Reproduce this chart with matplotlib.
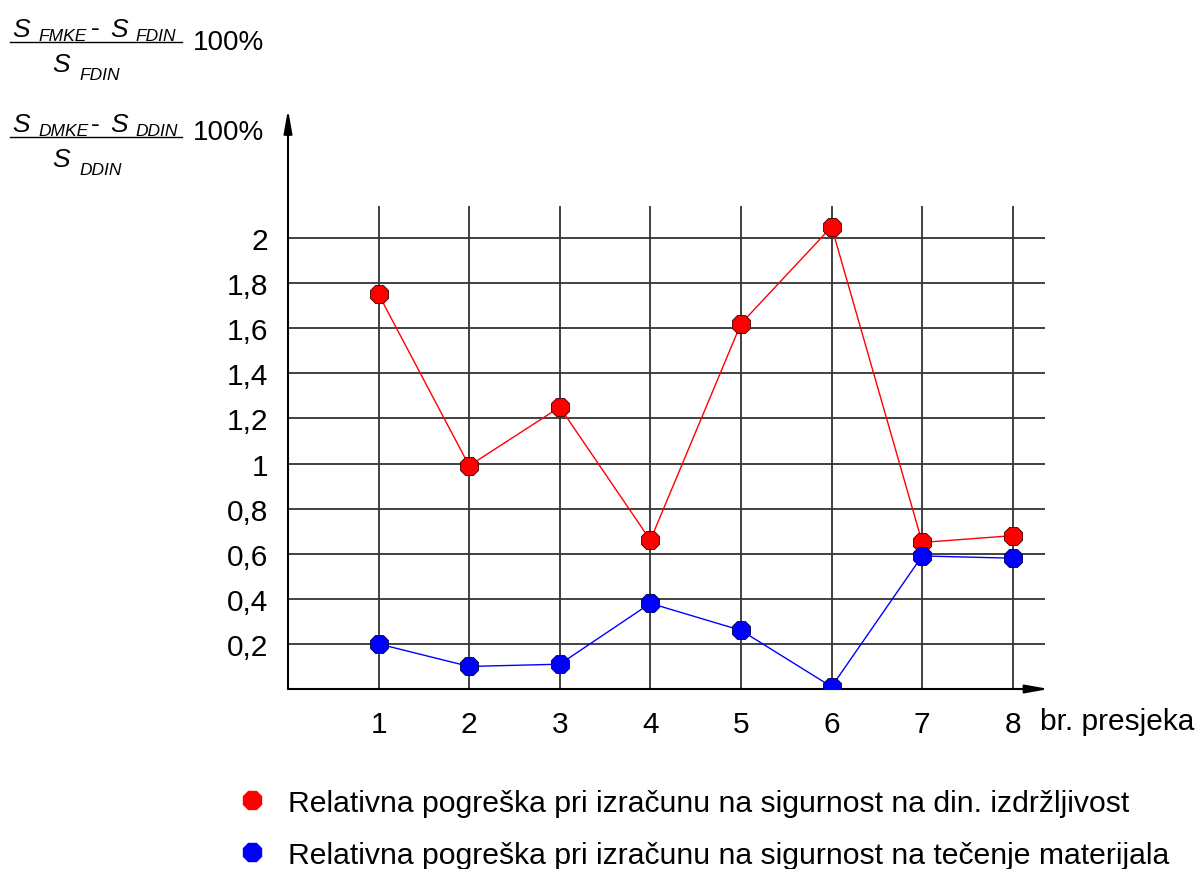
import matplotlib.pyplot as plt
from matplotlib.lines import Line2D

plt.rcParams['font.family'] = ['Liberation Sans', 'DejaVu Sans']

presjek = [1, 2, 3, 4, 5, 6, 7, 8]
din_izdrz = [1.75, 0.99, 1.25, 0.66, 1.62, 2.05, 0.65, 0.68]
tecenje = [0.20, 0.10, 0.11, 0.38, 0.26, 0.01, 0.59, 0.58]
y_ticks = [0.2, 0.4, 0.6, 0.8, 1.0, 1.2, 1.4, 1.6, 1.8, 2.0]
y_labels = ['0,2', '0,4', '0,6', '0,8', '1', '1,2', '1,4', '1,6', '1,8', '2']
leg_labels = ['Relativna pogreška pri izračunu na sigurnost na din. izdržljivost',
              'Relativna pogreška pri izračunu na sigurnost na tečenje materijala']

W, H = 1200, 870
FS = 21.5
fig = plt.figure(figsize=(W / 100, H / 100), dpi=100)
ax = fig.add_axes([288 / W, 1 - 690 / H, 761 / W, 586.3 / H])
ax.set_xlim(0, 8.4)
ax.set_ylim(0, 2.6)
for s in ax.spines.values():
    s.set_visible(False)

# grid
ax.vlines(presjek, 0, 2.14, color='#333333', lw=1.3, zorder=1)
ax.hlines(y_ticks, 0, 8.355, color='#333333', lw=1.3, zorder=1)

# axes with arrows
arrow = dict(arrowstyle='-|>,head_length=1.4,head_width=0.25', color='#555555',
             lw=1.5, shrinkA=0, shrinkB=0, fc='black', ec='black')
ax.annotate('', xy=(8.4, 0), xytext=(0, 0), annotation_clip=False, arrowprops=arrow)
ax.annotate('', xy=(0, 2.57), xytext=(0, 0), annotation_clip=False, arrowprops=arrow)

ax.plot(presjek, din_izdrz, color='red', lw=1, marker='8', ms=14,
        mfc='red', mec='#400000', mew=0.6, zorder=3)
ax.plot(presjek, tecenje, color='blue', lw=1, marker='8', ms=14,
        mfc='blue', mec='#000040', mew=0.6, zorder=3)

ax.set_xticks(presjek)
ax.set_xticklabels([str(p) for p in presjek])
ax.set_yticks(y_ticks)
ax.set_yticklabels(y_labels)
ax.tick_params(length=0, labelsize=FS)
ax.tick_params(axis='x', pad=15)
ax.tick_params(axis='y', pad=14)

ax.text(8.3, -0.142, 'br. presjeka', fontsize=FS, ha='left', va='center', clip_on=False)

# legend
h = [Line2D([], [], ls='none', marker='8', ms=14, color=c) for c in ['red', 'blue']]
fig.legend(h, leg_labels, loc='upper left', bbox_to_anchor=(237 / W, 1 - 790 / H),
           frameon=False, fontsize=21.7, handlelength=1.0, handletextpad=0.7,
           labelspacing=0.78, borderaxespad=0, borderpad=0)


# y axis label: two fractions, positions in pixels from top-left
def ptext(x, y, s, size, **kw):
    fig.text(x / W, 1 - y / H, s, fontsize=size, ha='left', va='baseline', **kw)


def fraction(dy, sub1, sub2, dy_pct):
    ptext(12, 37 + dy, 'S', 19, style='italic')
    ptext(38, 41 + dy, sub1, 12.5, style='italic')
    ptext(91, 36.5 + dy, '-', 19)
    ptext(110, 37 + dy, 'S', 19, style='italic')
    ptext(135, 41 + dy, sub2, 12.5, style='italic')
    fig.add_artist(Line2D([10 / W, 182 / W], [1 - (43 + dy) / H] * 2, color='black', lw=1))
    ptext(52, 72 + dy, 'S', 19, style='italic')
    ptext(79, 80 + dy, sub2, 12.5, style='italic')
    ptext(193, 50 + dy_pct, '100%', 20)


fraction(0, 'FMKE', 'FDIN', 0)
fraction(95, 'DMKE', 'DDIN', 90)

fig.savefig('out.png', dpi=100)
